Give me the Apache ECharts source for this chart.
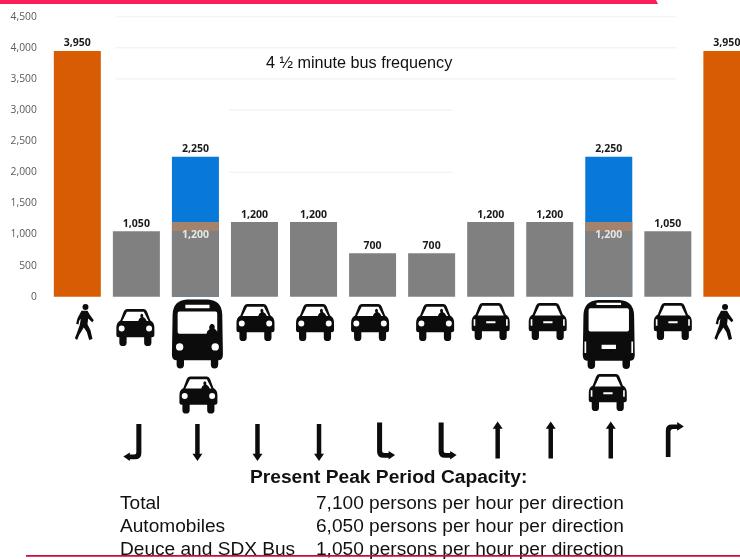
<!DOCTYPE html>
<html>
<head>
<meta charset="utf-8">
<style>html,body{margin:0;padding:0;background:#fff;overflow:hidden}#chart{width:740px;height:559px}</style>
<script src="https://cdn.jsdelivr.net/npm/echarts@6/dist/echarts.min.js"></script>
</head>
<body>
<div id="chart"></div>
<script>
// Lane capacities, persons per hour per direction
const lanes = ['Sidewalk W','Lane 1','Lane 2','Lane 3','Lane 4','Lane 5','Lane 6','Lane 7','Lane 8','Lane 9','Lane 10','Sidewalk E'];
const pedestrianValues = [3950,null,null,null,null,null,null,null,null,null,null,3950];
const transitValues    = [null,null,2250,null,null,null,null,null,null,2250,null,null];
const autoValues       = [null,1050,1200,1200,1200,700,700,1200,1200,1200,1050,null];
const busLaneBaseShare = 1050;
const axisTicks = [0,500,1000,1500,2000,2500,3000,3500,4000,4500];

// What travels in each lane and which way it moves
const laneVehicles = ['walker','carDriver','busDriver','carDriver','carDriver','carDriver','carDriver','carRear','carRear','busRear','carRear','walker'];
const sharedVehicles = [null,null,'carDriver',null,null,null,null,null,null,'carRear',null,null];
const laneMoves = [null,'leftFromSouth','down','down','down','rightFromNorth','rightFromNorth','up','up','up','rightFromSouth',null];

const headline = '4 ½ minute bus frequency';
const summaryTitle = 'Present Peak Period Capacity:';
const summaryRows = [
  ['Total','7,100 persons per hour per direction'],
  ['Automobiles','6,050 persons per hour per direction'],
  ['Deuce and SDX Bus','1,050 persons per hour per direction']
];

// Partial horizontal rules: [value, first lane position, last lane position]
const ruleSegments = [[4500,0.64,10.15],[4000,0.64,10.15],[3500,0.64,10.15],[3000,2.57,6.36],[2000,2.57,6.36]];

// Placement of the icon rows
const vehicleRowY = [322,327.5,334,322.5,322.5,322.5,322.5,321.5,321.5,334.5,321.5,322];
const vehicleNudge = [7,-1,2,1,1.5,-2.5,3.5,0,-2,0,5,-3];
const sharedRowY = [0,0,395,0,0,0,0,0,0,392.5,0,0];
const sharedNudge = [0,0,3,0,0,0,0,0,0,-1,0,0];
const moveRowY = [0,442.5,442.5,442.5,442.5,441,441,440,440,440,439.5,0];
const moveNudge = [0,-4,2,3,5.5,13.5,16,7,1,2,7,0];

const COLORS = {orange:'#d85c04',blue:'#0879d8',gray:'#808080',seam:'#a3836c',rule:'#efefef',icon:'#0c0c0c',tick:'#5a5a5a',label:'#1a1a1a'};

function dot(cx,cy,r,sweep){
  return 'M'+(cx-r)+' '+cy+' A'+r+' '+r+' 0 0 '+sweep+' '+(cx+r)+' '+cy+' A'+r+' '+r+' 0 0 '+sweep+' '+(cx-r)+' '+cy+' Z ';
}
function slot(x0,y0,x1,y1){
  return 'M'+x0+' '+y0+' L'+x0+' '+y1+' L'+x1+' '+y1+' L'+x1+' '+y0+' Z ';
}
const carBody = 'M32 0 L83 0 Q90 0 93 8 L103 34 Q115 40 115 55 L115 78 Q115 84 108 84 L106 84 L106 100 Q106 110 95 110 Q84 110 84 100 L84 84 L31 84 L31 100 Q31 110 20 110 Q9 110 9 100 L9 84 L7 84 Q0 84 0 78 L0 55 Q0 40 12 34 L22 8 Q25 0 32 0 Z ';
const busBody = 'M45 0 L107 0 Q148 2 150 45 L152 165 Q152 183 140 183 L138 183 L138 196 Q138 208 127 208 Q116 208 116 196 L116 183 L36 183 L36 196 Q36 208 25 208 Q14 208 14 196 L14 183 L12 183 Q0 183 0 165 L2 45 Q4 2 45 0 Z ';
const ICONS = {
  walker:'path://M20 20 L38 20 L45 32 L57 48 L52 54 L40 43 L38 60 L47 78 L53 104 L43 107 L36 83 L27 70 L13 92 L7 107 L0 102 L6 87 L15 62 L18 44 L13 50 L11 61 L4 59 L8 42 Z '+dot(32,9,9,1),
  carDriver:'path://'+carBody+'M32 8 L18 36 L66 36 Q68 27 74 25 Q70 18 76 14 Q83 15 81 24 Q88 27 92 36 L97 36 L83 8 Z '+dot(16,58,9,0)+dot(99,58,9,0),
  carRear:'path://'+carBody+'M32 8 L18 37 L97 37 L83 8 Z '+slot(44,54,72,60)+slot(6,48,11,68)+slot(104,48,109,68),
  busDriver:'path://'+busBody+slot(40,16,112,26)+'M22 36 Q17 36 17 42 L17 98 Q17 103 22 103 L103 103 Q104 94 112 90 Q108 80 118 73 Q130 74 127 88 Q134 92 135 98 L135 42 Q135 36 130 36 Z '+dot(23,143,11,0)+dot(129,143,11,0),
  busRear:'path://'+busBody+'M22 25 Q17 25 17 31 L17 90 Q17 95 22 95 L130 95 Q135 95 135 90 L135 31 Q135 25 130 25 Z '+slot(40,8,112,15)+slot(55,135,97,148)+slot(5,125,10,160)+slot(142,125,147,160),
  down:'path://M8 0 L21 0 L21 90 L29 90 L14.5 112 L0 90 L8 90 Z',
  up:'path://M14.5 0 L29 22 L21 22 L21 112 L8 112 L8 22 L0 22 Z',
  leftFromSouth:'path://M36 0 L50 0 L50 88 Q50 107 32 107 L18 107 L18 112 L0 98 L18 86 L18 92 L30 92 Q36 92 36 86 Z',
  rightFromNorth:'path://M2 0 L16 0 L16 86 Q16 92 22 92 L34 92 L34 86 L52 98 L34 112 L34 107 L20 107 Q2 107 2 88 Z',
  rightFromSouth:'path://M0 112 L0 26 Q0 8 18 8 L34 8 L34 0 L54 14 L34 28 L34 22 L22 22 Q14 22 14 30 L14 112 Z'
};
const ICON_SIZES = {
  walker:[19,36],carDriver:[38,37],carRear:[38,37],busDriver:[51,69],busRear:[52,69],
  down:[10,37],up:[10,37],leftFromSouth:[18,37],rightFromNorth:[18,37],rightFromSouth:[18,35]
};

function iconSeries(kinds,rowY,nudge){
  return {
    type:'scatter',xAxisIndex:2,yAxisIndex:1,silent:true,animation:false,clip:false,
    itemStyle:{color:COLORS.icon,opacity:1},
    data:kinds.map(function(kind,i){
      return kind ? {
        value:[i,rowY[i]],symbol:ICONS[kind],symbolSize:ICON_SIZES[kind],symbolOffset:[nudge[i],0]
      } : null;
    }).filter(Boolean)
  };
}

const valueLabel = {show:true,position:'top',distance:2,color:COLORS.label,fontFamily:'Open Sans',fontWeight:'bold',fontSize:10.5,
  formatter:function(p){return p.value==null?'':p.value.toLocaleString('en-US');}};

const autoData = autoValues.map(function(v,i){
  if (v==null || transitValues[i]==null) return v;
  // The part of a shared bus lane that overlaps the bus share gets a tint at its top
  const seam = 1-busLaneBaseShare/v;
  return {
    value:v,
    itemStyle:{color:{type:'linear',x:0,y:0,x2:0,y2:1,colorStops:[
      {offset:0,color:COLORS.seam},{offset:seam,color:COLORS.seam},
      {offset:seam,color:COLORS.gray},{offset:1,color:COLORS.gray}]}},
    label:{position:'insideTop',distance:7.5,color:'#e6e6e6'}
  };
});

function barSeries(data,color,z){
  return {type:'bar',data:data,barWidth:47,barGap:'-100%',animation:false,silent:true,z:z,
    itemStyle:{color:color},label:valueLabel};
}

const ruleSeries = ruleSegments.map(function(s){
  return {type:'line',xAxisIndex:1,yAxisIndex:0,symbol:'none',silent:true,animation:false,z:1,
    lineStyle:{color:COLORS.rule,width:1},data:[[s[1],s[0]],[s[2],s[0]]]};
});

const bodyText = {fontFamily:'Liberation Sans',fontSize:19.1,fill:'#111'};
const summaryGraphics = [];
summaryRows.forEach(function(row,i){
  const top = 494+i*23;
  summaryGraphics.push(
    {type:'text',left:120,top:top,style:Object.assign({text:row[0]},bodyText)},
    {type:'text',left:316,top:top,style:Object.assign({text:row[1]},bodyText)}
  );
});

const chart = echarts.init(document.getElementById('chart'),null,{renderer:'canvas'});
chart.setOption({
  backgroundColor:'#fff',
  grid:[
    {left:47.8,top:16.7,width:708.6,height:280,outerBoundsMode:'none'},
    {left:47.8,top:298,width:708.6,height:167,outerBoundsMode:'none'}
  ],
  xAxis:[
    {type:'category',gridIndex:0,data:lanes,show:false},
    {type:'value',gridIndex:0,min:-0.5,max:11.5,show:false},
    {type:'value',gridIndex:1,min:-0.5,max:11.5,show:false}
  ],
  yAxis:[
    {type:'value',gridIndex:0,min:axisTicks[0],max:axisTicks[axisTicks.length-1],interval:axisTicks[1],
      axisLine:{show:false},axisTick:{show:false},splitLine:{show:false},
      axisLabel:{margin:11,color:COLORS.tick,fontFamily:'Open Sans',fontSize:10.3,
        formatter:function(v){return v.toLocaleString('en-US');}}},
    {type:'value',gridIndex:1,min:298,max:465,inverse:true,show:false}
  ],
  series:[].concat(
    ruleSeries,
    [barSeries(pedestrianValues,COLORS.orange,2),
     barSeries(transitValues,COLORS.blue,2),
     barSeries(autoData,COLORS.gray,3)],
    [iconSeries(laneVehicles,vehicleRowY,vehicleNudge),
     iconSeries(sharedVehicles,sharedRowY,sharedNudge),
     iconSeries(laneMoves,moveRowY,moveNudge)]
  ),
  graphic:[
    {type:'polygon',shape:{points:[[0,0],[656,0],[658,4],[0,4]]},style:{fill:'#fb1c5a'}},
    {type:'text',left:266,top:55.5,style:Object.assign({text:headline},bodyText,{fontSize:16.2})},
    {type:'text',left:250,top:468,style:Object.assign({text:summaryTitle},bodyText,{fontWeight:'bold',fontSize:19.2})}
  ].concat(summaryGraphics,[
    {type:'rect',shape:{x:26,y:555,width:714,height:1.7},style:{fill:'#c40f38'},z:10}
  ])
});
</script>
</body>
</html>
